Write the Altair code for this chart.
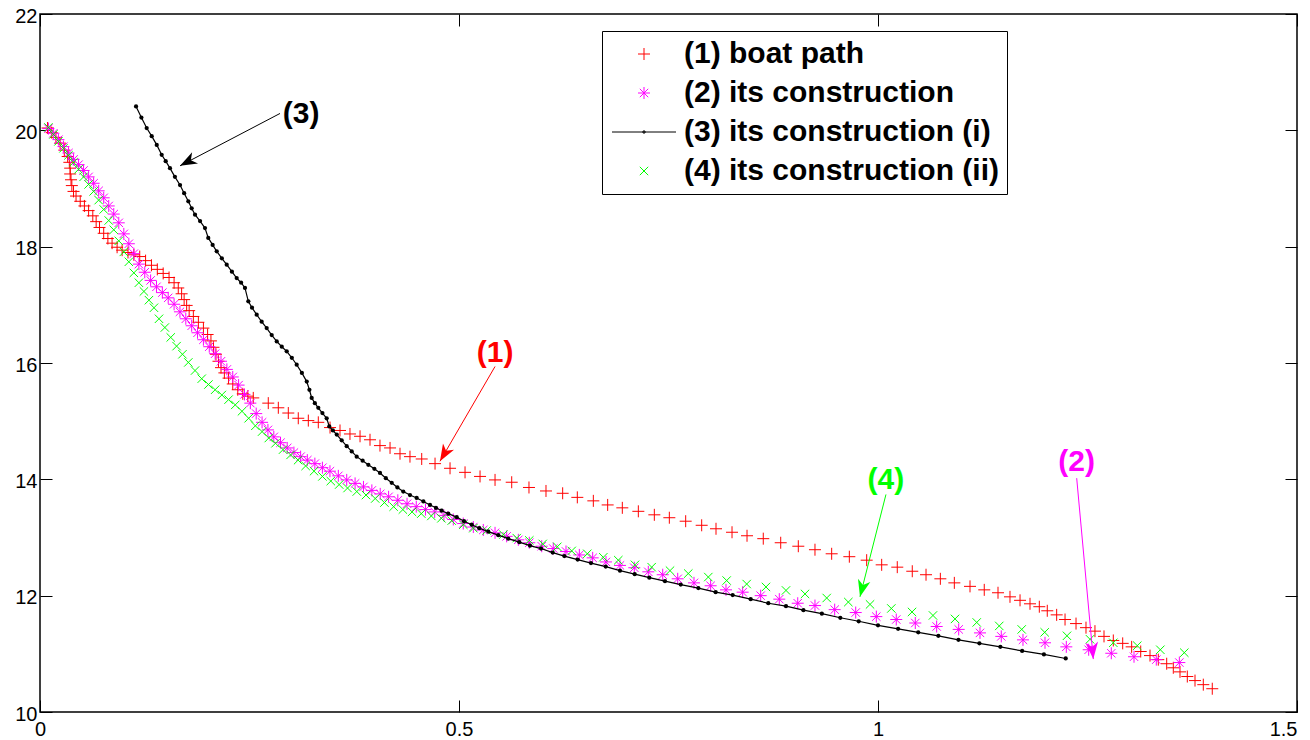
import math
import altair as alt
import pandas as pd

FONT = "Liberation Sans"

S1 = "(1) boat path"
S2 = "(2) its construction"
S3 = "(3) its construction (i)"
S4 = "(4) its construction (ii)"
SERIES = [S1, S2, S3, S4]
COLORS = ["#ff0000", "#ff00ff", "#000000", "#00ff00"]

X_TICKS = [0, 0.5, 1, 1.5]
Y_TICKS = [10, 12, 14, 16, 18, 20, 22]
X_DOM = [0, 1.5]
Y_DOM = [10, 22]

# (1) boat path
red_x = [0.009, 0.014, 0.019, 0.024, 0.029, 0.033, 0.035, 0.036, 0.036, 0.037, 0.038, 0.040, 0.043,
         0.048, 0.053, 0.058, 0.063, 0.067, 0.071, 0.076, 0.081, 0.086, 0.092, 0.098, 0.105, 0.112,
         0.119, 0.126, 0.133, 0.140, 0.147, 0.154, 0.160, 0.165, 0.169, 0.172, 0.175, 0.178, 0.183,
         0.189, 0.195, 0.200, 0.204, 0.207, 0.210, 0.213, 0.216, 0.220, 0.225, 0.230, 0.236, 0.242,
         0.248, 0.2545, 0.2724, 0.2844, 0.2963, 0.3082, 0.3202, 0.3321, 0.3461, 0.3580, 0.3699,
         0.3819, 0.3938, 0.4057, 0.4177, 0.4296, 0.4415, 0.4555, 0.4714, 0.4893, 0.5072, 0.5251,
         0.5430, 0.5629, 0.5835, 0.6038, 0.6237, 0.6412, 0.6603, 0.6774, 0.6949, 0.7140, 0.7331,
         0.7510, 0.7705, 0.7896, 0.8067, 0.8258, 0.8437, 0.8631, 0.8839, 0.9049, 0.9248, 0.9447,
         0.9658, 0.9865, 1.0044, 1.0230, 1.0409, 1.0573, 1.0744, 1.0911, 1.1098, 1.1268, 1.1432,
         1.1575, 1.1695, 1.1814, 1.1925, 1.2020, 1.2132, 1.2232, 1.2363, 1.2482, 1.2589, 1.2697,
         1.2808, 1.2920, 1.3027, 1.3135, 1.3246, 1.3345, 1.3445, 1.3524, 1.3604, 1.3691, 1.3783,
         1.3882, 1.3989]
red_y = [20.04, 19.96, 19.88, 19.78, 19.66, 19.55, 19.45, 19.35, 19.25, 19.15, 19.05, 18.95, 18.87,
         18.78, 18.70, 18.62, 18.53, 18.43, 18.33, 18.23, 18.14, 18.06, 17.99, 17.94, 17.90, 17.86,
         17.83, 17.76, 17.68, 17.61, 17.54, 17.47, 17.38, 17.29, 17.19, 17.09, 16.99, 16.90, 16.80,
         16.70, 16.60, 16.49, 16.38, 16.27, 16.15, 16.03, 15.92, 15.83, 15.74, 15.64, 15.54, 15.47,
         15.43, 15.40, 15.31, 15.23, 15.14, 15.05, 15.01, 14.98, 14.89, 14.84, 14.78,
         14.74, 14.68, 14.58, 14.54, 14.44, 14.39, 14.35, 14.27, 14.19, 14.12, 14.05,
         13.99, 13.95, 13.86, 13.80, 13.76, 13.69, 13.63, 13.56, 13.51, 13.45, 13.39,
         13.34, 13.28, 13.21, 13.15, 13.09, 13.03, 12.98, 12.91, 12.85, 12.79, 12.72,
         12.67, 12.61, 12.53, 12.49, 12.42, 12.36, 12.29, 12.22, 12.16, 12.10, 12.05,
         11.98, 11.92, 11.86, 11.81, 11.74, 11.67, 11.59, 11.52, 11.45, 11.39, 11.30,
         11.23, 11.18, 11.12, 11.04, 10.97, 10.90, 10.83, 10.76, 10.69, 10.61, 10.54,
         10.47, 10.40]

# (2) its construction
mag_x = [0.010, 0.016, 0.022, 0.028, 0.034, 0.040, 0.046, 0.052, 0.058, 0.064, 0.070, 0.076, 0.082,
         0.088, 0.094, 0.100, 0.106, 0.112, 0.118, 0.125, 0.132, 0.139, 0.146, 0.153, 0.160, 0.167,
         0.174, 0.181, 0.188, 0.195, 0.202, 0.209, 0.216, 0.223, 0.230, 0.237, 0.244, 0.251, 0.258,
         0.265, 0.272, 0.279, 0.287, 0.295, 0.303, 0.311, 0.319, 0.328, 0.337, 0.346, 0.356, 0.366,
         0.376, 0.386, 0.396, 0.406, 0.416, 0.427, 0.438, 0.449, 0.460, 0.471, 0.482, 0.4932, 0.5051,
         0.5171, 0.5290, 0.5430, 0.5569, 0.5708, 0.5839, 0.5987, 0.6125, 0.6277, 0.6436, 0.6595,
         0.6754, 0.6921, 0.7092, 0.7259, 0.7431, 0.7610, 0.7804, 0.8003, 0.8186, 0.8385, 0.8600,
         0.8822, 0.9042, 0.9248, 0.9483, 0.9734, 0.9980, 1.0218, 1.0445, 1.0700, 1.0963, 1.1217,
         1.1471, 1.1730, 1.1993, 1.2247, 1.2514, 1.2784, 1.3055, 1.3321, 1.3596]
mag_y = [20.03, 19.95, 19.84, 19.72, 19.61, 19.50, 19.41, 19.31, 19.20, 19.09, 18.96, 18.84, 18.70,
         18.56, 18.41, 18.22, 18.05, 17.88, 17.70, 17.56, 17.42, 17.31, 17.21, 17.12, 17.01, 16.88,
         16.76, 16.64, 16.52, 16.40, 16.28, 16.16, 16.03, 15.89, 15.76, 15.62, 15.46, 15.31, 15.13,
         14.98, 14.85, 14.73, 14.63, 14.54, 14.46, 14.39, 14.33, 14.27, 14.20, 14.14, 14.06, 13.99,
         13.93, 13.87, 13.81, 13.75, 13.70, 13.64, 13.58, 13.53, 13.48, 13.44, 13.38, 13.31, 13.24,
         13.18, 13.13, 13.08, 13.02, 12.96, 12.91, 12.85, 12.81, 12.76, 12.70, 12.65,
         12.58, 12.52, 12.48, 12.41, 12.36, 12.29, 12.22, 12.17, 12.10, 12.06, 12.00,
         11.94, 11.87, 11.83, 11.76, 11.71, 11.64, 11.59, 11.53, 11.47, 11.42, 11.36,
         11.30, 11.24, 11.19, 11.12, 11.07, 11.01, 10.95, 10.90, 10.85]

# (3) its construction (i)
blk_x = [0.1146, 0.1210, 0.1273, 0.1333, 0.1393, 0.1452, 0.1500, 0.1551, 0.1610, 0.1671, 0.1720,
         0.1770, 0.1810, 0.1850, 0.1910, 0.1969, 0.2008, 0.2060, 0.2109, 0.2170, 0.2228, 0.2290,
         0.2347, 0.2400, 0.2446, 0.2486, 0.2530, 0.2586, 0.2645, 0.2705, 0.2765, 0.2825, 0.2885,
         0.2944, 0.3005, 0.3063, 0.3125, 0.3183, 0.3215, 0.3242, 0.3280, 0.3321, 0.3370, 0.3421,
         0.3452, 0.3495, 0.3541, 0.3600, 0.3660, 0.3720, 0.3779, 0.3850, 0.3918, 0.3990, 0.4057,
         0.4127, 0.4197, 0.4265, 0.4335, 0.4415, 0.4495, 0.4575, 0.4654, 0.4725, 0.4793, 0.4872,
         0.4973, 0.5060, 0.5152, 0.5242, 0.5350, 0.5469, 0.5588, 0.5720, 0.5847, 0.5979, 0.6118,
         0.6257, 0.6416, 0.6575, 0.6751, 0.6921, 0.7097, 0.7271, 0.7458, 0.7646, 0.7856, 0.8063,
         0.8266, 0.8481, 0.8691, 0.8902, 0.911, 0.933, 0.955, 0.977, 1.000, 1.024, 1.048, 1.072,
         1.096, 1.121, 1.146, 1.172, 1.198, 1.224]
blk_y = [20.41, 20.22, 20.04, 19.90, 19.75, 19.58, 19.47, 19.35, 19.20, 19.06, 18.92,
         18.78, 18.66, 18.55, 18.44, 18.32, 18.15, 18.03, 17.92, 17.80, 17.69, 17.57,
         17.46, 17.38, 17.29, 17.06, 16.95, 16.83, 16.71, 16.60, 16.48, 16.37, 16.28,
         16.20, 16.09, 15.97, 15.83, 15.68, 15.54, 15.40, 15.31, 15.23, 15.14, 15.05,
         14.91, 14.84, 14.77, 14.67, 14.57, 14.48, 14.39, 14.32, 14.25, 14.18, 14.11,
         14.02, 13.94, 13.86, 13.79, 13.73, 13.68, 13.62, 13.56, 13.51, 13.46, 13.41,
         13.35, 13.28, 13.22, 13.16, 13.10, 13.04, 12.98, 12.92, 12.86, 12.81, 12.74,
         12.68, 12.62, 12.56, 12.50, 12.43, 12.37, 12.31, 12.25, 12.19, 12.13, 12.06,
         12.01, 11.94, 11.87, 11.82, 11.75, 11.69, 11.62, 11.56, 11.49, 11.43, 11.37, 11.31,
         11.24, 11.18, 11.12, 11.05, 10.99, 10.92]

# (4) its construction (ii)
grn_x = [0.010, 0.016, 0.022, 0.028, 0.034, 0.040, 0.046, 0.052, 0.058, 0.064, 0.070, 0.076, 0.082,
         0.088, 0.094, 0.100, 0.106, 0.112, 0.118, 0.124, 0.130, 0.136, 0.142, 0.149, 0.156, 0.163,
         0.170, 0.177, 0.185, 0.193, 0.201, 0.209, 0.217, 0.225, 0.233, 0.241, 0.249, 0.257, 0.265,
         0.273, 0.281, 0.290, 0.299, 0.308, 0.317, 0.327, 0.337, 0.347, 0.357, 0.367, 0.378, 0.389,
         0.400, 0.411, 0.422, 0.433, 0.444, 0.455, 0.467, 0.479, 0.4913, 0.5051, 0.5171, 0.5330,
         0.5529, 0.5689, 0.5839, 0.5999, 0.6173, 0.6345, 0.6531, 0.6722, 0.6901, 0.7100, 0.7299,
         0.7518, 0.7736, 0.7975, 0.8194, 0.8433, 0.8663, 0.8902, 0.9129, 0.9388, 0.9646, 0.9905,
         1.0159, 1.0406, 1.0656, 1.0919, 1.1178, 1.1447, 1.1715, 1.1989, 1.2255, 1.2530, 1.2808,
         1.3094, 1.3369, 1.3655]
grn_y = [20.05, 19.93, 19.81, 19.69, 19.57, 19.45, 19.33, 19.20, 19.07, 18.95, 18.80, 18.64, 18.45,
         18.29, 18.10, 17.91, 17.74, 17.55, 17.38, 17.23, 17.08, 16.95, 16.76, 16.61, 16.44, 16.29,
         16.15, 16.01, 15.87, 15.73, 15.63, 15.54, 15.45, 15.37, 15.28, 15.17, 15.05, 14.92, 14.82,
         14.71, 14.62, 14.51, 14.42, 14.33, 14.23, 14.14, 14.05, 13.97, 13.91, 13.85, 13.79, 13.73,
         13.67, 13.60, 13.53, 13.48, 13.44, 13.41, 13.37, 13.33, 13.29, 13.22, 13.16, 13.12,
         13.05, 12.99, 12.95, 12.89, 12.84, 12.77, 12.72, 12.66, 12.61, 12.53, 12.49,
         12.43, 12.38, 12.32, 12.26, 12.20, 12.15, 12.09, 12.03, 11.96, 11.89, 11.85,
         11.78, 11.72, 11.66, 11.60, 11.54, 11.48, 11.42, 11.37, 11.31, 11.25, 11.19,
         11.14, 11.07, 11.02]

# annotations: label text, label position, arrow tail and arrow head
ann_text = ["(3)", "(1)", "(4)", "(2)"]
ann_color = ["#000000", "#ff0000", "#00ff00", "#ff00ff"]
ann_tx = [0.3115, 0.543, 1.0093, 1.2371]
ann_ty = [20.28, 16.18, 13.98, 14.29]
arr_x1 = [0.2864, 0.543, 1.0095, 1.2371]
arr_y1 = [20.29, 15.94, 13.74, 14.02]
arr_x2 = [0.1671, 0.4773, 0.9785, 1.2569]
arr_y2 = [19.39, 14.31, 11.98, 10.91]

# ---------------------------------------------------------------- layout
W, H = 1257, 698
TICK = 12

PLUS = "M-0.6,0H0.6M0,-0.6V0.6"
STAR = "M-0.6,0H0.6M0,-0.6V0.6M-0.42,-0.42L0.42,0.42M-0.42,0.42L0.42,-0.42"
LINEDOT = "M-3.2,0H3.2M-0.1,-0.1H0.1V0.1H-0.1Z"
XMARK = "M-0.42,-0.42L0.42,0.42M-0.42,0.42L0.42,-0.42"
SHAPES = [PLUS, STAR, LINEDOT, XMARK]
ARROW = "M0,0L0.6,1.6L0,1.15L-0.6,1.6Z"

pts = pd.concat([
    pd.DataFrame({"x": red_x, "y": red_y, "s": S1}),
    pd.DataFrame({"x": mag_x, "y": mag_y, "s": S2}),
    pd.DataFrame({"x": grn_x, "y": grn_y, "s": S4}),
], ignore_index=True)
blk = pd.DataFrame({"x": blk_x, "y": blk_y})

xs = alt.Scale(domain=X_DOM, nice=False, zero=False)
ys = alt.Scale(domain=Y_DOM, nice=False, zero=False)
cs = alt.Scale(domain=SERIES, range=COLORS)
ss = alt.Scale(domain=SERIES, range=SHAPES)

ax_bottom = alt.Axis(orient="bottom", values=X_TICKS, format="~g", offset=-TICK, domain=False,
                     grid=False, tickSize=TICK, tickColor="black", tickWidth=1, labelFont=FONT,
                     labelFontSize=20, labelColor="black", labelPadding=7, labelFlush=False,
                     labelAlign={"condition": {"test": f"datum.value >= {X_DOM[1]}",
                                               "value": "right"}, "value": "center"},
                     labelOverlap=False, title=None)
ax_left = alt.Axis(orient="left", values=Y_TICKS, format="d", offset=-TICK, domain=False,
                   grid=False, tickSize=TICK, tickColor="black", tickWidth=1, labelFont=FONT,
                   labelFontSize=20, labelColor="black", labelPadding=3, labelOffset=2,
                   labelOverlap=False, title=None)
ax_top = alt.Axis(orient="top", values=X_TICKS, offset=-TICK, domain=False, grid=False,
                  tickSize=TICK, tickColor="black", tickWidth=1, labels=False, title=None)
ax_right = alt.Axis(orient="right", values=Y_TICKS, offset=-TICK, domain=False, grid=False,
                    tickSize=TICK, tickColor="black", tickWidth=1, labels=False, title=None)

leg = alt.Legend(title=None, orient="none", legendX=562, legendY=17, padding=8,
                 strokeColor="black", fillColor="white", labelFont=FONT, labelFontSize=30,
                 labelFontWeight="bold", labelColor="black", labelLimit=700, symbolSize=400,
                 symbolStrokeWidth=1, symbolOffset=19, labelOffset=25, rowPadding=9)

points = alt.Chart(pts).mark_point(filled=False, size=400, strokeWidth=1, opacity=1).encode(
    x=alt.X("x:Q", scale=xs, axis=ax_bottom),
    y=alt.Y("y:Q", scale=ys, axis=ax_left),
    color=alt.Color("s:N", scale=cs, legend=leg),
    shape=alt.Shape("s:N", scale=ss, legend=leg),
)

blk_line = alt.Chart(blk).mark_line(color="black", strokeWidth=1.2).encode(
    x=alt.X("x:Q", scale=xs, axis=ax_top),
    y=alt.Y("y:Q", scale=ys, axis=ax_right),
)
blk_dots = alt.Chart(blk).mark_circle(color="black", size=18, opacity=1).encode(
    x=alt.X("x:Q", scale=xs, axis=None),
    y=alt.Y("y:Q", scale=ys, axis=None),
)

layers = [points, blk_line, blk_dots]
for i in range(len(ann_text)):
    dx = (arr_x2[i] - arr_x1[i]) * W / (X_DOM[1] - X_DOM[0])
    dy = -(arr_y2[i] - arr_y1[i]) * H / (Y_DOM[1] - Y_DOM[0])
    ang = math.degrees(math.atan2(dx, -dy)) % 360
    row = pd.DataFrame({"text": [ann_text[i]], "tx": [ann_tx[i]], "ty": [ann_ty[i]],
                        "x1": [arr_x1[i]], "y1": [arr_y1[i]],
                        "x2": [arr_x2[i]], "y2": [arr_y2[i]]})
    col = ann_color[i]
    layers.append(alt.Chart(row).mark_rule(strokeWidth=1, color=col).encode(
        x=alt.X("x1:Q", scale=xs, axis=None),
        y=alt.Y("y1:Q", scale=ys, axis=None),
        x2="x2:Q", y2="y2:Q",
    ))
    layers.append(alt.Chart(row).mark_point(filled=True, shape=ARROW, size=450, opacity=1,
                                            color=col, angle=ang).encode(
        x=alt.X("x2:Q", scale=xs, axis=None),
        y=alt.Y("y2:Q", scale=ys, axis=None),
    ))
    layers.append(alt.Chart(row).mark_text(font=FONT, fontSize=30, fontWeight="bold",
                                           baseline="middle", align="center",
                                           color=col).encode(
        x=alt.X("tx:Q", scale=xs, axis=None),
        y=alt.Y("ty:Q", scale=ys, axis=None),
        text="text:N",
    ))

chart = alt.layer(*layers).resolve_axis(
    x="independent", y="independent"
).properties(
    width=W, height=H,
    padding={"left": 32, "top": 6, "right": 5, "bottom": 26},
    autosize=alt.AutoSizeParams(type="none"),
    background="white",
).configure_view(stroke="black", strokeWidth=1.5)

chart.save("out.html", embed_options={"renderer": "svg", "actions": False})
